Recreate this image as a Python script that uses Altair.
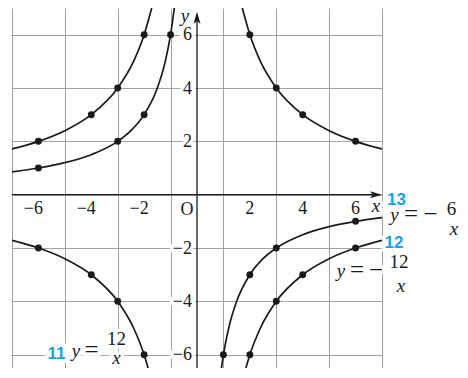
import altair as alt
import pandas as pd

# ---------------- data ----------------
grid_vals = list(range(-7, 8))

x_ticks = [-6, -4, -2, 2, 4, 6]
x_tick_labels = ["−6", "−4", "−2", "2", "4", "6"]
y_ticks = [6, 4, 2, -2, -4, -6]
y_tick_labels = ["6", "4", "2", "−2", "−4", "−6"]

# marked points of each curve
dots_p12_x = [2, 3, 4, 6, -6, -4, -3, -2]
dots_p12_y = [6, 4, 3, 2, -2, -3, -4, -6]
dots_m12_x = [-6, -4, -3, -2, 2, 3, 4, 6]
dots_m12_y = [2, 3, 4, 6, -6, -4, -3, -2]
dots_m6_x = [-6, -3, -2, -1, 1, 2, 3, 6]
dots_m6_y = [1, 2, 3, 6, -6, -3, -2, -1]

# curve branches
p12_q1_x = [1.714, 2, 2.4, 3, 4, 5, 6, 7]
p12_q1_y = [7, 6, 5, 4, 3, 2.4, 2, 1.714]
p12_q3_x = [-7, -6, -5, -4, -3, -2.4, -2, -1.714]
p12_q3_y = [-1.714, -2, -2.4, -3, -4, -5, -6, -7]
m12_q2_x = [-7, -6, -5, -4, -3, -2.4, -2, -1.714]
m12_q2_y = [1.714, 2, 2.4, 3, 4, 5, 6, 7]
m12_q4_x = [1.714, 2, 2.4, 3, 4, 5, 6, 7]
m12_q4_y = [-7, -6, -5, -4, -3, -2.4, -2, -1.714]
m6_q2_x = [-7, -6, -5, -4, -3, -2.5, -2, -1.5, -1.2, -1, -0.857]
m6_q2_y = [0.857, 1, 1.2, 1.5, 2, 2.4, 3, 4, 5, 6, 7]
m6_q4_x = [0.857, 1, 1.2, 1.5, 2, 2.5, 3, 4, 5, 6, 7]
m6_q4_y = [-7, -6, -5, -4, -3, -2.4, -2, -1.5, -1.2, -1, -0.857]

# ---------------- tables ----------------
branches = [
    ("p12_q1", p12_q1_x, p12_q1_y), ("p12_q3", p12_q3_x, p12_q3_y),
    ("m12_q2", m12_q2_x, m12_q2_y), ("m12_q4", m12_q4_x, m12_q4_y),
    ("m6_q2", m6_q2_x, m6_q2_y), ("m6_q4", m6_q4_x, m6_q4_y),
]
rows = []
for name, xs_, ys_ in branches:
    for i, (a, b) in enumerate(zip(xs_, ys_)):
        rows.append({"x": a, "y": b, "branch": name, "i": i})
curves = pd.DataFrame(rows)

dots = pd.DataFrame({
    "x": dots_p12_x + dots_m12_x + dots_m6_x,
    "y": dots_p12_y + dots_m12_y + dots_m6_y,
})
xt = pd.DataFrame({"v": x_ticks, "t": x_tick_labels})
yt = pd.DataFrame({"v": y_ticks, "t": y_tick_labels})

W, H = 370, 360
INK = "#1a1a1a"
BLUE = "#1BA1E2"
SERIF = "Liberation Serif"

xs = alt.Scale(domain=[-7, 7], nice=False, zero=False)
ys = alt.Scale(domain=[-6.5, 7], nice=False, zero=False)
gaxis = dict(values=grid_vals, grid=True, labels=False, ticks=False, domain=False,
             title=None, gridColor="#a2a2a2", gridWidth=1, gridOpacity=1)

X = alt.X("x:Q", scale=xs, axis=alt.Axis(**gaxis))
Y = alt.Y("y:Q", scale=ys, axis=alt.Axis(**gaxis))

lines = alt.Chart(curves).mark_line(color=INK, strokeWidth=1.7, interpolate="monotone", clip=True).encode(
    x=X, y=Y, detail="branch:N", order="i:Q")

pts = alt.Chart(dots).mark_circle(color=INK, size=48, opacity=1).encode(
    x=alt.X("x:Q", scale=xs), y=alt.Y("y:Q", scale=ys))

one = alt.Data(values=[{}])

xaxis_line = alt.Chart(one).mark_rule(color=INK, strokeWidth=1.3).encode(
    y=alt.datum(0, scale=ys), x=alt.value(0), x2=alt.value(W - 4))
yaxis_line = alt.Chart(one).mark_rule(color=INK, strokeWidth=1.3).encode(
    x=alt.datum(0, scale=xs), y=alt.value(6), y2=alt.value(H))
arrow_r = alt.Chart(one).mark_point(
    shape="M0,0 L-2.4,-0.7 L-1.8,0 L-2.4,0.7 Z", filled=True, color=INK, opacity=1, size=100).encode(
    x=alt.datum(7, scale=xs), y=alt.datum(0, scale=ys))
arrow_u = alt.Chart(one).mark_point(
    shape="M0,0.8 L-0.7,3.2 L0,2.6 L0.7,3.2 Z", filled=True, color=INK, opacity=1, size=100).encode(
    x=alt.datum(0, scale=xs), y=alt.datum(7, scale=ys))


def xlab(h):
    kw = dict(fill="white", stroke="white", strokeWidth=7) if h else dict(color=INK)
    return alt.Chart(xt).mark_text(font=SERIF, fontSize=18, align="right", baseline="alphabetic",
                                   dx=4.5, dy=19.5, **kw).encode(
        x=alt.X("v:Q", scale=xs), y=alt.datum(0, scale=ys), text="t:N")


def ylab(h):
    kw = dict(fill="white", stroke="white", strokeWidth=7) if h else dict(color=INK)
    return alt.Chart(yt).mark_text(font=SERIF, fontSize=18, align="right", baseline="alphabetic",
                                   dx=-5, dy=5.5, **kw).encode(
        y=alt.Y("v:Q", scale=ys), x=alt.datum(0, scale=xs), text="t:N")


def txt(h, s, px, py, size=19, italic=False, color=INK, font=SERIF, bold=False):
    kw = dict(fill="white", stroke="white", strokeWidth=7) if h else dict(color=color)
    return alt.Chart(one).mark_text(
        text=s, font=font, fontSize=size, fontStyle="italic" if italic else "normal",
        fontWeight="bold" if bold else "normal", align="center", baseline="alphabetic", **kw
    ).encode(x=alt.value(px), y=alt.value(py))


ann_specs = [
    # origin & axis names
    ("O", 175, 207, 18, False, INK, SERIF, False),
    ("x", 364, 204, 19, True, INK, SERIF, False),
    ("y", 173, 14, 19, True, INK, SERIF, False),
    # 13  y = -6/x
    ("13", 384.5, 197, 17, False, BLUE, "Liberation Sans", True),
    ("y", 382.5, 213, 19, True, INK, SERIF, False),
    ("=", 399, 214, 25, False, INK, SERIF, False),
    ("−", 418.5, 214, 25, False, INK, SERIF, False),
    ("6", 439.5, 207, 19, False, INK, SERIF, False),
    ("x", 442, 227, 19, True, INK, SERIF, False),
    # 12  y = -12/x
    ("12", 382, 240, 17, False, BLUE, "Liberation Sans", True),
    ("y", 329, 269, 19, True, INK, SERIF, False),
    ("=", 345, 270, 25, False, INK, SERIF, False),
    ("−", 364, 270, 25, False, INK, SERIF, False),
    ("12", 387, 260, 19, False, INK, SERIF, False),
    ("x", 389, 284, 19, True, INK, SERIF, False),
    # 11  y = 12/x
    ("11", 44.5, 351, 17, False, BLUE, "Liberation Sans", True),
    ("y", 64, 349, 19, True, INK, SERIF, False),
    ("=", 79.5, 350, 25, False, INK, SERIF, False),
    ("12", 104.5, 337, 19, False, INK, SERIF, False),
    ("x", 104.5, 356, 19, True, INK, SERIF, False),
]

halos = [xlab(True), ylab(True)] + [txt(True, *a) for a in ann_specs]
texts = [xlab(False), ylab(False)] + [txt(False, *a) for a in ann_specs]

chart = alt.layer(
    lines.mark_line(opacity=0).encode(),  # carries the grid axes
    *halos,
    lines,
    xaxis_line, yaxis_line, arrow_r, arrow_u,
    *texts,
    pts,
).properties(
    width=W, height=H, autosize="none",
    padding={"left": 4, "top": 0, "right": 78, "bottom": 0},
).configure_view(stroke=None)

chart.save("out.html", embed_options={"renderer": "svg", "actions": False})
